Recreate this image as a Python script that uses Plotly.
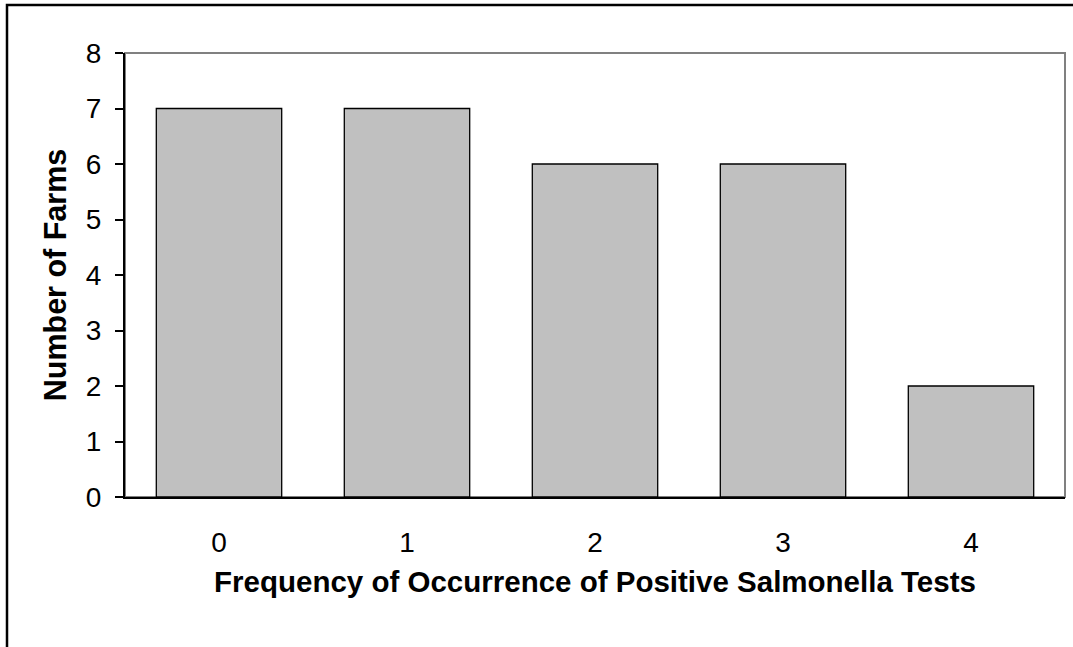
import plotly.graph_objects as go

categories = ["0", "1", "2", "3", "4"]
farms = [7, 7, 6, 6, 2]
y_ticks = [0, 1, 2, 3, 4, 5, 6, 7, 8]

W, H = 1073, 647
L, R, T, B = 125, 8, 53, 150
pw = W - L - R
ph = H - T - B

fig = go.Figure()
fig.add_trace(go.Bar(
    x=categories, y=farms,
    marker=dict(color="#C0C0C0", line=dict(color="black", width=1.3)),
    width=0.667,
    hoverinfo="skip",
))

# gray plot-area frame
fig.add_shape(type="rect", xref="paper", yref="paper", x0=0, x1=1, y0=0, y1=1,
              line=dict(color="#808080", width=2), layer="below")
# outer chart border (extends past the bottom/right of the picture)
fig.add_shape(type="rect", xref="paper", yref="paper",
              x0=(7 - L) / pw, x1=1.2, y0=-0.6, y1=(T + ph - 5) / ph,
              line=dict(color="black", width=2.5), layer="above")

font = "Arial, Liberation Sans, sans-serif"
fig.update_layout(
    width=W, height=H,
    margin=dict(l=L, r=R, t=T, b=B, pad=0),
    paper_bgcolor="white", plot_bgcolor="white",
    showlegend=False,
    bargap=0.333,
    font=dict(family=font, color="black", size=28),
    xaxis=dict(
        type="category",
        showline=True, linecolor="black", linewidth=2,
        ticks="", showgrid=False, zeroline=False,
        tickfont=dict(size=28),
        ticklabelstandoff=19,
        title=dict(text="<b>Frequency of Occurrence of Positive Salmonella Tests</b>",
                   font=dict(size=29.5), standoff=15),
    ),
    yaxis=dict(
        range=[0, 8],
        tickvals=y_ticks,
        showline=True, linecolor="black", linewidth=2,
        ticks="outside", ticklen=8, tickwidth=2, tickcolor="black",
        showgrid=False, zeroline=False,
        tickfont=dict(size=28),
        ticklabelstandoff=8,
        title=dict(text="<b>Number of Farms</b>", font=dict(size=30.5), standoff=10),
    ),
)

fig.write_html("out.html",
               config={"displayModeBar": False},
               post_script="document.body.style.margin='0';document.body.style.overflow='hidden';")
